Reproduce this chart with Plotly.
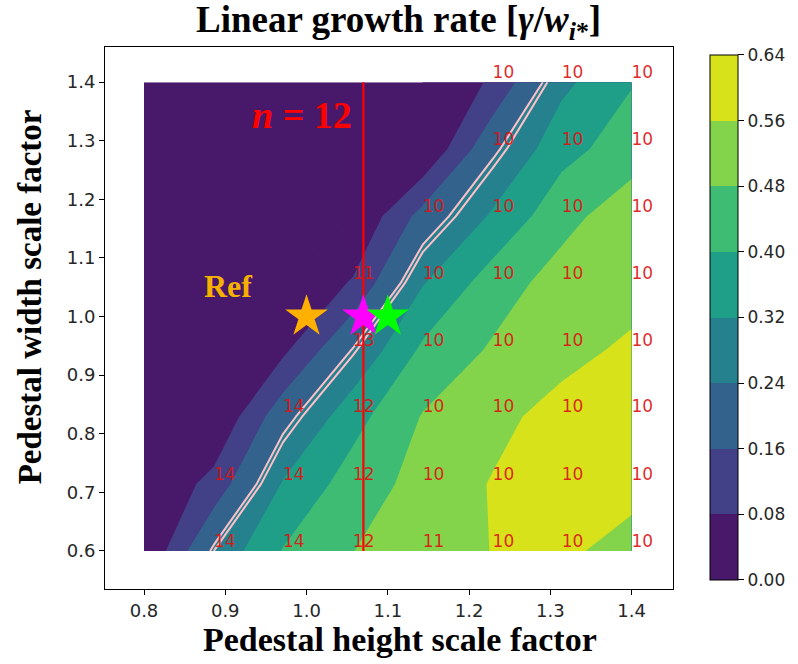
import plotly.graph_objects as go

# ---------------- data ----------------
height_factor = [0.8, 0.886, 0.971, 1.057, 1.143, 1.229, 1.314, 1.4]   # x grid
width_factor = [0.6, 0.714, 0.829, 0.943, 1.057, 1.171, 1.286, 1.4]    # y grid

# linear growth rate gamma / w_i*  (rows = width factor, cols = height factor)
growth_rate = [
    [0.000, 0.257, 0.404, 0.479, 0.519, 0.562, 0.575, 0.531],
    [0.000, 0.107, 0.327, 0.437, 0.508, 0.565, 0.590, 0.585],
    [0.000, 0.003, 0.214, 0.371, 0.485, 0.537, 0.590, 0.580],
    [0.000, 0.000, 0.063, 0.247, 0.415, 0.490, 0.533, 0.576],
    [0.000, 0.000, 0.000, 0.088, 0.315, 0.439, 0.515, 0.525],
    [0.000, 0.000, 0.000, 0.000, 0.190, 0.332, 0.452, 0.530],
    [0.000, 0.000, 0.000, 0.000, 0.000, 0.227, 0.373, 0.440],
    [0.000, 0.000, 0.000, 0.000, 0.000, 0.092, 0.300, 0.395],
]

# most unstable toroidal mode number (None = stable / not shown)
mode_number = [
    [None, 14, 14, 12, 11, 10, 10, 10],
    [None, 14, 14, 12, 10, 10, 10, 10],
    [None, None, 14, 12, 10, 10, 10, 10],
    [None, None, None, 13, 10, 10, 10, 10],
    [None, None, None, 11, 10, 10, 10, 10],
    [None, None, None, None, 10, 10, 10, 10],
    [None, None, None, None, None, 10, 10, 10],
    [None, None, None, None, None, 10, 10, 10],
]

boundary_levels = [0.243, 0.257]        # pink double contour
n12_height = 1.07                       # vertical n = 12 line
star_x = [1.0, 1.07, 1.1]
star_y = [1.0, 1.0, 1.0]
star_colors = ["#ffb000", "#ff00ff", "#00ff00"]

levels_start, levels_end, levels_step = 0.0, 0.64, 0.08
band_colors = ["#48186a", "#424086", "#33628d", "#26818e",
               "#1f9f88", "#3fbc73", "#84d44b", "#d7e21b"]

# ---------------- figure ----------------
nb = len(band_colors)
ncs = nb + 1
# colorscale for contour fills (plotly samples band i at (i+1)/(nb+1))
fill_scale = [[0.0, band_colors[0]]]
for i, c in enumerate(band_colors):
    fill_scale.append([(i + 1) / ncs, c])
fill_scale.append([1.0, band_colors[-1]])

# stepped colorscale for the colour bar over [0, 0.64]
bar_scale = []
for i, c in enumerate(band_colors):
    bar_scale.append([i / nb, c])
    bar_scale.append([(i + 1) / nb, c])

fig = go.Figure()

fig.add_trace(go.Contour(
    x=height_factor, y=width_factor, z=growth_rate,
    colorscale=fill_scale,
    contours=dict(start=levels_start, end=levels_end, size=levels_step,
                  coloring="fill", showlines=False),
    line=dict(width=0, smoothing=0),
    showscale=False,
    hoverinfo="skip",
))

# invisible heatmap only to carry the discrete colour bar
fig.add_trace(go.Heatmap(
    x=[5.0], y=[5.0], z=[[levels_start]],
    zmin=levels_start, zmax=levels_end, colorscale=bar_scale,
    hoverinfo="skip",
    colorbar=dict(
        x=1.065, xanchor="left", xpad=0, ypad=0,
        y=0.501, yanchor="middle", len=0.969, lenmode="fraction",
        thickness=28, outlinecolor="black", outlinewidth=1,
        tickmode="linear", tick0=0, dtick=levels_step, tickformat=".2f",
        ticks="outside", ticklen=6, tickcolor="black",
        tickfont=dict(family="DejaVu Sans", size=17, color="#262626"),
    ),
))

for lv in boundary_levels:
    fig.add_trace(go.Contour(
        x=height_factor, y=width_factor, z=growth_rate,
        contours=dict(start=lv, end=lv, size=0.1, coloring="none"),
        line=dict(color="#ffbfca", width=2, smoothing=0),
        showscale=False, hoverinfo="skip",
    ))

# mode-number labels
lx, ly, lt = [], [], []
for j, yv in enumerate(width_factor):
    for i, xv in enumerate(height_factor):
        m = mode_number[j][i]
        if m is not None:
            lx.append(xv); ly.append(yv); lt.append(str(m))
fig.add_trace(go.Scatter(
    x=lx, y=ly, text=lt, mode="text", textposition="top right",
    textfont=dict(family="DejaVu Sans", size=17, color="rgba(220,20,20,0.92)"),
    showlegend=False, hoverinfo="skip",
))

# n = 12 vertical line
fig.add_trace(go.Scatter(
    x=[n12_height, n12_height], y=[width_factor[0], width_factor[-1]],
    mode="lines", line=dict(color="#ff0000", width=2.2),
    showlegend=False, hoverinfo="skip",
))

# stars
fig.add_trace(go.Scatter(
    x=star_x, y=star_y, mode="markers",
    marker=dict(symbol="star", size=32, color=star_colors, line=dict(width=0)),
    showlegend=False, hoverinfo="skip",
))

serif = "Liberation Serif"
fig.add_annotation(x=0.903, y=1.052, xref="x", yref="y", text="<b>Ref</b>",
                   showarrow=False, font=dict(family=serif, size=32, color="#f5b000"))
fig.add_annotation(x=0.994, y=1.344, xref="x", yref="y",
                   text="<b><i>n</i> = 12</b>",
                   showarrow=False, font=dict(family=serif, size=38, color="#ff0000"))

# titles
fig.add_annotation(x=0.5175, y=1.046, xref="paper", yref="paper",
                   text="<b>Linear growth rate [<i>γ</i>/<i>w</i><sub><i>i</i>*</sub>]</b>",
                   showarrow=False, xanchor="center", yanchor="middle",
                   font=dict(family=serif, size=37, color="black"))
fig.add_annotation(x=0.519, y=-0.093, xref="paper", yref="paper",
                   text="<b>Pedestal height scale factor</b>",
                   showarrow=False, xanchor="center", yanchor="middle",
                   font=dict(family=serif, size=34, color="black"))
fig.add_annotation(x=-0.133, y=0.539, xref="paper", yref="paper",
                   text="<b>Pedestal width scale factor</b>", textangle=-90,
                   showarrow=False, xanchor="center", yanchor="middle",
                   font=dict(family=serif, size=33, color="black"))

axis_common = dict(showline=True, linecolor="black", linewidth=1, mirror=True,
                   ticks="outside", ticklen=5, tickcolor="black",
                   showgrid=False, zeroline=False,
                   tickfont=dict(family="DejaVu Sans", size=18, color="#262626"))
fig.update_xaxes(range=[0.752, 1.451], tickmode="linear", tick0=0.8, dtick=0.1,
                 tickformat=".1f", **axis_common)
fig.update_yaxes(range=[0.535, 1.46], tickmode="linear", tick0=0.6, dtick=0.1,
                 tickformat=".1f", **axis_common)

fig.update_layout(
    width=798, height=664,
    margin=dict(l=105, r=123, t=47, b=75),
    plot_bgcolor="white", paper_bgcolor="white",
    showlegend=False,
)

fig.write_html("out.html")
